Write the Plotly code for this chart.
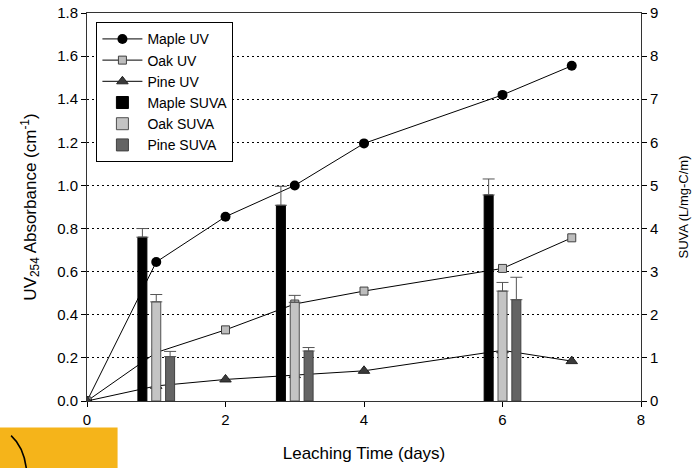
import plotly.graph_objects as go

# ---- data ----
uv_days = [0, 1, 2, 3, 4, 6, 7]
maple_uv = [0.0, 0.645, 0.855, 1.0, 1.195, 1.42, 1.555]
oak_uv = [0.0, 0.225, 0.33, 0.45, 0.51, 0.615, 0.757]
pine_uv = [0.0, 0.07, 0.10, 0.12, 0.14, 0.235, 0.185]

suva_days = [1, 3, 6]
maple_suva = [3.8, 4.54, 4.78]
maple_suva_err = [0.2, 0.44, 0.37]
oak_suva = [2.3, 2.29, 2.55]
oak_suva_err = [0.17, 0.16, 0.2]
pine_suva = [1.03, 1.16, 2.35]
pine_suva_err = [0.12, 0.08, 0.52]

x_ticks = [0, 2, 4, 6, 8]
y_ticks = [0.0, 0.2, 0.4, 0.6, 0.8, 1.0, 1.2, 1.4, 1.6, 1.8]
y2_ticks = [0, 1, 2, 3, 4, 5, 6, 7, 8, 9]

FONT = "Liberation Sans, Arial, sans-serif"
BW = 0.13

fig = go.Figure()

fig.add_trace(go.Scatter(x=uv_days, y=maple_uv, name="Maple UV", mode="lines+markers",
                         line=dict(color="black", width=1),
                         marker=dict(symbol="circle", size=10, color="black")))
fig.add_trace(go.Scatter(x=uv_days, y=oak_uv, name="Oak UV", mode="lines+markers",
                         line=dict(color="black", width=1),
                         marker=dict(symbol="square", size=8, color="#BDBDBD",
                                     line=dict(color="#404040", width=1))))
fig.add_trace(go.Scatter(x=uv_days, y=pine_uv, name="Pine UV", mode="lines+markers",
                         line=dict(color="black", width=1),
                         marker=dict(symbol="triangle-up", size=10, color="#3A3A3A",
                                     line=dict(color="#202020", width=1))))

err_style = dict(type="data", symmetric=False, color="#555555", thickness=1, width=6)

fig.add_trace(go.Bar(x=suva_days, y=maple_suva, name="Maple SUVA", yaxis="y2",
                     width=BW, offset=-0.2 - BW / 2,
                     marker=dict(color="black", line=dict(color="black", width=1)),
                     error_y=dict(array=maple_suva_err, arrayminus=[0] * 3, **err_style)))
fig.add_trace(go.Bar(x=suva_days, y=oak_suva, name="Oak SUVA", yaxis="y2",
                     width=BW, offset=-BW / 2,
                     marker=dict(color="#C4C4C4", line=dict(color="#505050", width=1)),
                     error_y=dict(array=oak_suva_err, arrayminus=[0] * 3, **err_style)))
fig.add_trace(go.Bar(x=suva_days, y=pine_suva, name="Pine SUVA", yaxis="y2",
                     width=BW, offset=0.2 - BW / 2,
                     marker=dict(color="#646464", line=dict(color="#404040", width=1)),
                     error_y=dict(array=pine_suva_err, arrayminus=[0] * 3, **err_style)))

# artifact in bottom-left corner of the reference picture
fig.add_shape(type="rect", xref="paper", yref="paper",
              x0=-0.16, x1=0.0552, y0=-0.0685, y1=-0.2,
              fillcolor="#F5B41A", line=dict(width=0), layer="above")
fig.add_shape(type="path", xref="paper", yref="paper",
              path="M -0.137 -0.0891 Q -0.113 -0.12 -0.109 -0.18",
              line=dict(color="black", width=1.6), layer="above")

fig.update_layout(
    width=694, height=468,
    margin=dict(l=87, r=53, t=13, b=67, autoexpand=False),
    paper_bgcolor="white", plot_bgcolor="white",
    font=dict(family=FONT, size=15, color="black"),
    barmode="overlay",
    showlegend=True,
    legend=dict(x=0.017, y=0.976, xanchor="left", yanchor="top",
                bordercolor="black", borderwidth=1, bgcolor="white",
                font=dict(size=14, family=FONT), tracegroupgap=0,
                itemwidth=40, traceorder="normal"),
    xaxis=dict(range=[0, 8], tickvals=x_ticks, ticktext=[str(t) for t in x_ticks],
               ticks="outside", ticklen=5, tickcolor="black",
               showline=True, linecolor="#333333", linewidth=1, mirror=True,
               showgrid=False, zeroline=False, automargin=False,
               title=dict(text="Leaching Time (days)", font=dict(size=17), standoff=20),
               tickfont=dict(size=15)),
    yaxis=dict(range=[0, 1.8], tickvals=y_ticks, ticktext=[f"{t:.1f}" for t in y_ticks],
               ticks="outside", ticklen=5, tickcolor="black",
               showline=True, linecolor="#333333", linewidth=1,
               showgrid=True, gridcolor="black", gridwidth=1, griddash="2px,3px",
               zeroline=False, automargin=False,
               title=dict(text="UV<sub>254</sub> Absorbance (cm<sup>-1</sup>)",
                          font=dict(size=17), standoff=16),
               tickfont=dict(size=15)),
    yaxis2=dict(range=[0, 9], tickvals=y2_ticks, overlaying="y", side="right",
                ticks="outside", ticklen=5, tickcolor="black",
                showline=True, linecolor="#333333", linewidth=1,
                showgrid=False, zeroline=False, automargin=False,
                title=dict(text="SUVA (L/mg-C/m)", font=dict(size=13), standoff=21),
                tickfont=dict(size=15)),
)

fig.write_html("out.html", config={"displayModeBar": False},
               post_script="document.body.style.margin='0';document.body.style.overflow='hidden';")
